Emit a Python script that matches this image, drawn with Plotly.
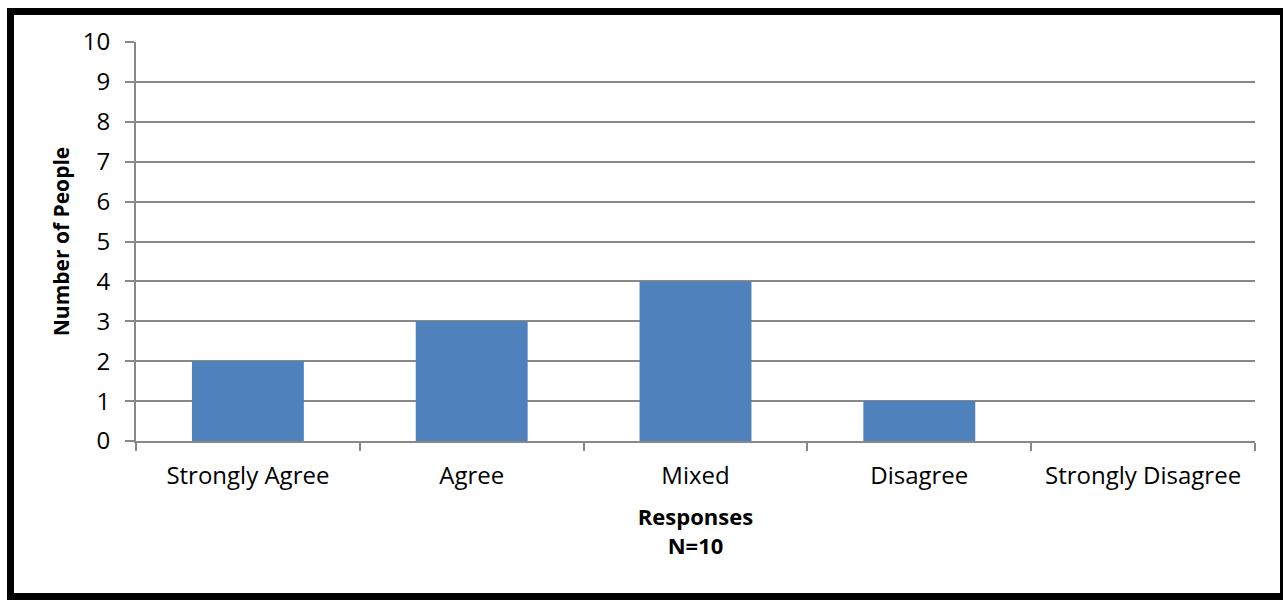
import plotly.graph_objects as go

categories = ["Strongly Agree", "Agree", "Mixed", "Disagree", "Strongly Disagree"]
counts = [2, 3, 4, 1, 0]
y_ticks = list(range(0, 11))

W, H = 1283, 603
L, R, T, B = 136, 28, 42, 162
pw, ph = W - L - R, H - T - B

def px(x):
    return (x - L) / pw

def py(y):
    return (H - B - y) / ph

FONT = "Open Sans"
FS = 24

fig = go.Figure(go.Bar(x=categories, y=counts, marker=dict(color="#4F81BD", line=dict(width=0)), width=0.5))

fig.update_layout(
    width=W, height=H,
    margin=dict(l=L, r=R, t=T, b=B, autoexpand=False),
    paper_bgcolor="white", plot_bgcolor="white",
    font=dict(family=FONT, size=FS, color="black"),
    showlegend=False,
    xaxis=dict(
        type="category",
        showline=True, linecolor="#888888", linewidth=2,
        ticks="outside", tickson="boundaries", ticklen=8, tickcolor="#888888", tickwidth=2,
        showgrid=False,
        ticklabelstandoff=12,
        title=dict(text="<b>Responses<br>N=10</b>", font=dict(family=FONT, size=22), standoff=20),
        tickfont=dict(family=FONT, size=FS),
    ),
    yaxis=dict(
        range=[0, 10], tickvals=y_ticks, ticktext=[str(v) for v in y_ticks],
        showline=True, linecolor="#888888", linewidth=2,
        ticks="outside", ticklen=9, tickcolor="#888888", tickwidth=2,
        showgrid=True, gridcolor="#888888", gridwidth=2,
        zeroline=False,
        ticklabelstandoff=10,
        title=dict(text="<b>Number of People</b>", font=dict(family=FONT, size=21), standoff=7),
        tickfont=dict(family=FONT, size=FS),
    ),
    shapes=[dict(type="rect", xref="paper", yref="paper",
                 x0=px(10.5), x1=px(1283.5), y0=py(11.5), y1=py(596.5),
                 line=dict(color="black", width=7), fillcolor="rgba(0,0,0,0)", layer="above")],
)

fig.write_html("out.html", config={"displayModeBar": False},
               post_script="document.body.style.margin='0';document.body.style.overflow='hidden';")
